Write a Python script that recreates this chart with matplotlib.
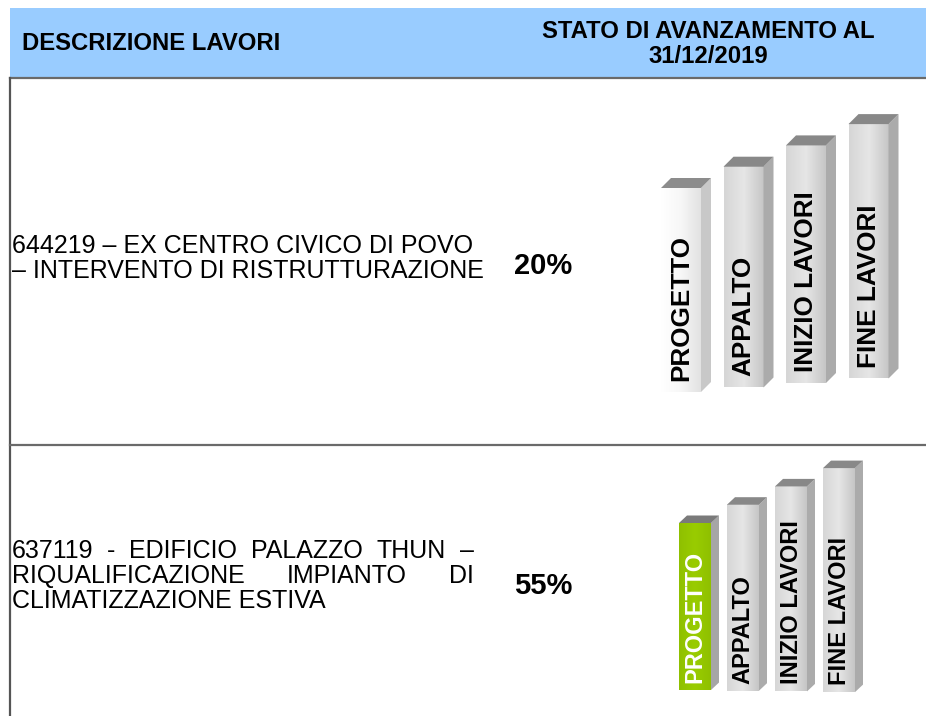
import matplotlib
matplotlib.use("Agg")
import matplotlib.pyplot as plt
import numpy as np
from matplotlib.patches import Rectangle, Polygon
from matplotlib.colors import to_rgb

plt.rcParams['font.family'] = ['Liberation Sans', 'DejaVu Sans']

# --- data ---
header_left = "DESCRIZIONE LAVORI"
header_right = "STATO DI AVANZAMENTO AL\n31/12/2019"
stages = ["PROGETTO", "APPALTO", "INIZIO LAVORI", "FINE LAVORI"]
row1_lines = ["644219 – EX CENTRO CIVICO DI POVO",
              "– INTERVENTO DI RISTRUTTURAZIONE"]
row2_lines = ["637119 - EDIFICIO PALAZZO THUN –",
              "RIQUALIFICAZIONE IMPIANTO DI",
              "CLIMATIZZAZIONE ESTIVA"]
row1_pct = "20%"
row2_pct = "55%"
row1_status = ["current", "todo", "todo", "todo"]
row2_status = ["done", "todo", "todo", "todo"]


def hgrad(ax, x0, x1, y0, y1, c_left, c_mid, c_right):
    a, b, c = np.array(to_rgb(c_left)), np.array(to_rgb(c_mid)), np.array(to_rgb(c_right))
    t = np.linspace(0, 1, 64)[:, None]
    cols = np.where(t < 0.5, a + (b - a) * (t / 0.5), b + (c - b) * ((t - 0.5) / 0.5))
    ax.imshow(cols[None, :, :], extent=[x0, x1, y1, y0], aspect='auto',
              interpolation='bilinear', zorder=2)


def draw_bars(ax, status, x0, pitch, w, dx, dy, top0, step, bottom, tilt, fs, pad):
    for i, (name, st) in enumerate(zip(stages, status)):
        xl = x0 + i * pitch
        xr = xl + w
        yt = top0 - i * step
        yb = bottom - i * tilt
        if st == "done":
            front = ("#8fc000", "#99cc00", "#8fc000")
            side, top, tc = "#a6a6a6", "#7a7a7a", "white"
        elif st == "current":
            front = ("#ffffff", "#f7f7f7", "#e2e2e2")
            side, top, tc = "#c8c8c8", "#8c8c8c", "black"
        else:
            front = ("#d6d6d6", "#e6e6e6", "#c6c6c6")
            side, top, tc = "#ababab", "#888888", "black"
        hgrad(ax, xl, xr, yt, yb, *front)
        ax.add_patch(Polygon([(xr, yt), (xr + dx, yt - dy), (xr + dx, yb - dy), (xr, yb)],
                             closed=True, fc=side, ec="none", zorder=2))
        ax.add_patch(Polygon([(xl, yt), (xr, yt), (xr + dx, yt - dy), (xl + dx, yt - dy)],
                             closed=True, fc=top, ec="none", zorder=2))
        ax.text(xl + w / 2, yb - pad, name, rotation=90, rotation_mode='anchor',
                ha='left', va='center', fontsize=fs, fontweight='bold',
                color=tc, zorder=3)


fig = plt.figure(figsize=(9.26, 7.16), dpi=100)
ax = fig.add_axes([0, 0, 1, 1])
ax.set_xlim(0, 926)
ax.set_ylim(716, 0)
ax.axis('off')

# header band and table lines
ax.add_patch(Rectangle((10, 8), 916, 70, fc="#99ccff", ec="none", zorder=1))
ax.plot([10, 926], [78, 78], color="#6a6a6a", lw=1.6, zorder=4)
ax.plot([10, 10], [78, 716], color="#555555", lw=1.6, zorder=4)
ax.plot([10, 926], [445, 445], color="#6a6a6a", lw=1.6, zorder=4)

ax.text(22, 44, header_left, fontsize=17.2, fontweight='bold', ha='left', va='center')
ax.text(708, 44, header_right, fontsize=17.2, fontweight='bold', ha='center',
        va='center', linespacing=1.12)

body_fs = 18
fig.canvas.draw()
renderer = fig.canvas.get_renderer()


def justified(line, y, x_left, x_right):
    words = line.split(" ")
    ts = [ax.text(0, y, wd, fontsize=body_fs, ha='left', va='center') for wd in words]
    inv = ax.transData.inverted()
    widths = []
    for t in ts:
        bb = t.get_window_extent(renderer)
        p0 = inv.transform((bb.x0, bb.y0))
        p1 = inv.transform((bb.x1, bb.y0))
        widths.append(p1[0] - p0[0])
    gap = (x_right - x_left - sum(widths)) / max(len(words) - 1, 1)
    x = x_left
    for t, wdt in zip(ts, widths):
        t.set_x(x)
        x += wdt + gap


# row 1
for k, line in enumerate(row1_lines):
    ax.text(12, 246 + 25 * k, line, fontsize=body_fs, ha='left', va='center')
ax.text(514, 266, row1_pct, fontsize=21, fontweight='bold', ha='left', va='center')

# row 2
justified(row2_lines[0], 551, 12, 474)
justified(row2_lines[1], 576, 12, 474)
ax.text(12, 601, row2_lines[2], fontsize=body_fs, ha='left', va='center')
ax.text(514, 586, row2_pct, fontsize=21, fontweight='bold', ha='left', va='center')

draw_bars(ax, row1_status, 661, 62.5, 40, 10, 10, 188, 21.3, 392, 4.5, 18.8, 11)
draw_bars(ax, row2_status, 679, 48, 32, 8, 7.5, 523, 18.3, 690, -0.7, 17, 7)

ax.set_xlim(0, 926)
ax.set_ylim(716, 0)
fig.savefig("out.png", dpi=100)
